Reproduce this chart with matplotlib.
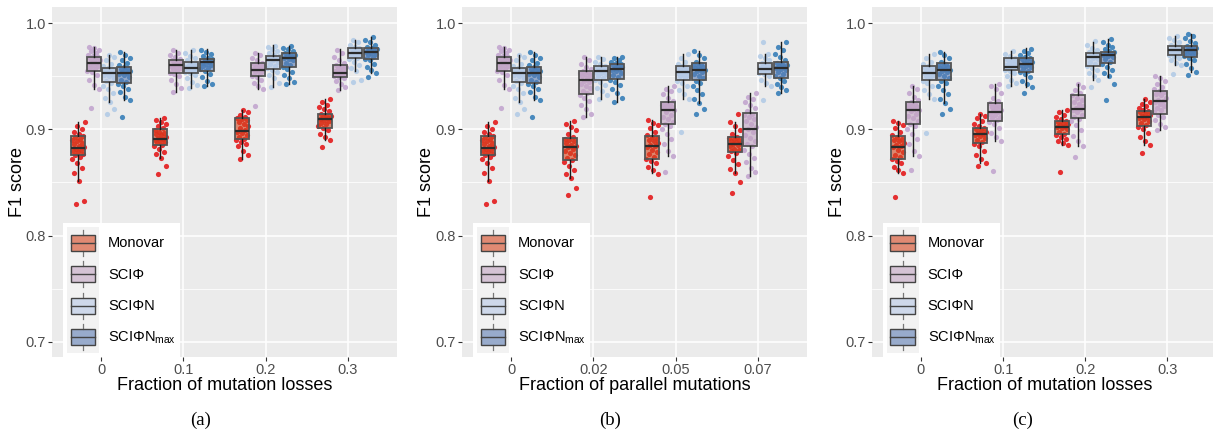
import matplotlib
matplotlib.use("Agg")
import matplotlib.pyplot as plt
import numpy as np
from matplotlib.patches import Patch, Rectangle
from matplotlib.lines import Line2D
from matplotlib.legend_handler import HandlerBase
from matplotlib.colors import to_rgba

plt.rcParams['font.family'] = ['Liberation Sans', 'DejaVu Sans']
plt.rcParams['mathtext.default'] = 'regular'

methods = ["Monovar", "SCI\u03a6", "SCI\u03a6N", "SCI\u03a6N$_{max}$"]
loss_ticks = ["0", "0.1", "0.2", "0.3"]
par_ticks = ["0", "0.02", "0.05", "0.07"]

# ---- box summaries (whislo, q1, median, q3, whishi) ----
a_mono_box = [(0.851, 0.8755, 0.8826, 0.8937, 0.907), (0.873, 0.8852, 0.8908, 0.900, 0.911),
              (0.872, 0.8906, 0.8984, 0.9104, 0.918), (0.890, 0.9015, 0.9097, 0.9141, 0.929)]
a_phi_box = [(0.938, 0.9553, 0.9623, 0.9685, 0.978), (0.9355, 0.9528, 0.9604, 0.9654, 0.975),
             (0.938, 0.9503, 0.9559, 0.9623, 0.972), (0.937, 0.9496, 0.9528, 0.9607, 0.9755)]
a_phin_box = [(0.926, 0.9449, 0.9534, 0.9575, 0.970), (0.939, 0.9534, 0.9575, 0.9632, 0.975),
              (0.940, 0.9569, 0.9654, 0.9692, 0.9795), (0.955, 0.967, 0.9717, 0.977, 0.984)]
a_max_box = [(0.928, 0.9434, 0.9534, 0.959, 0.973), (0.941, 0.9553, 0.9632, 0.966, 0.9755),
             (0.943, 0.959, 0.967, 0.9717, 0.9786), (0.9534, 0.966, 0.9732, 0.977, 0.9868)]

b_mono_box = [a_mono_box[0], (0.854, 0.871, 0.8836, 0.8921, 0.908),
              (0.8585, 0.872, 0.8845, 0.894, 0.909), (0.859, 0.879, 0.886, 0.893, 0.907)]
b_phi_box = [a_phi_box[0], (0.912, 0.933, 0.9465, 0.955, 0.9685),
             (0.875, 0.9047, 0.9182, 0.9255, 0.941), (0.856, 0.8845, 0.900, 0.9157, 0.934)]
b_phin_box = [a_phin_box[0], (0.929, 0.9465, 0.955, 0.9597, 0.9685),
              (0.9286, 0.9465, 0.9538, 0.960, 0.971), (0.941, 0.9522, 0.9569, 0.9623, 0.971)]
b_max_box = [a_max_box[0], (0.926, 0.9474, 0.9566, 0.9613, 0.968),
             (0.9245, 0.9465, 0.9559, 0.9623, 0.9742), (0.934, 0.9487, 0.9575, 0.9632, 0.982)]

c_mono_box = [(0.859, 0.872, 0.8836, 0.8937, 0.908), (0.868, 0.8874, 0.8953, 0.901, 0.915),
              (0.885, 0.8953, 0.9025, 0.9078, 0.918), (0.885, 0.9031, 0.9113, 0.9176, 0.9286)]
c_phi_box = [(0.875, 0.9047, 0.9182, 0.926, 0.941), (0.889, 0.908, 0.916, 0.925, 0.943),
             (0.884, 0.911, 0.919, 0.932, 0.943), (0.899, 0.915, 0.927, 0.936, 0.950)]
c_phin_box = [(0.929, 0.9465, 0.9534, 0.960, 0.971), (0.941, 0.956, 0.959, 0.967, 0.974),
              (0.947, 0.9597, 0.9685, 0.9723, 0.9827), (0.9607, 0.970, 0.9748, 0.9789, 0.988)]
c_max_box = [(0.9245, 0.9465, 0.9559, 0.9623, 0.9732), (0.9396, 0.9538, 0.9613, 0.9676, 0.9764),
             (0.9496, 0.9623, 0.970, 0.9726, 0.9849), (0.9543, 0.9685, 0.9748, 0.9789, 0.9896)]

# ---- individual F1 scores (jittered dots), read approximately ----
a_mono = [
    [0.830, 0.833, 0.851, 0.859, 0.864, 0.868, 0.872, 0.874, 0.876, 0.877, 0.879, 0.880, 0.881, 0.882,
     0.883, 0.884, 0.886, 0.887, 0.889, 0.890, 0.891, 0.893, 0.894, 0.896, 0.898, 0.900, 0.903, 0.907],
    [0.858, 0.866, 0.873, 0.877, 0.879, 0.882, 0.884, 0.885, 0.887, 0.888, 0.889, 0.890, 0.891, 0.892,
     0.893, 0.895, 0.896, 0.897, 0.898, 0.899, 0.901, 0.903, 0.905, 0.907, 0.909, 0.911],
    [0.872, 0.876, 0.880, 0.884, 0.886, 0.888, 0.890, 0.891, 0.893, 0.895, 0.897, 0.898, 0.899, 0.901,
     0.903, 0.905, 0.907, 0.909, 0.910, 0.911, 0.912, 0.914, 0.916, 0.918],
    [0.883, 0.890, 0.893, 0.896, 0.899, 0.901, 0.903, 0.905, 0.906, 0.908, 0.909, 0.910, 0.911, 0.912,
     0.913, 0.914, 0.915, 0.917, 0.919, 0.921, 0.923, 0.926, 0.929]]
a_phi = [
    [0.920, 0.938, 0.942, 0.947, 0.951, 0.954, 0.955, 0.957, 0.958, 0.960, 0.961, 0.962, 0.963, 0.964,
     0.965, 0.966, 0.967, 0.968, 0.969, 0.970, 0.972, 0.974, 0.975, 0.977, 0.978],
    [0.935, 0.939, 0.943, 0.947, 0.950, 0.952, 0.953, 0.955, 0.957, 0.958, 0.959, 0.960, 0.961, 0.962,
     0.963, 0.964, 0.965, 0.966, 0.968, 0.970, 0.972, 0.975],
    [0.922, 0.938, 0.941, 0.944, 0.947, 0.949, 0.950, 0.952, 0.954, 0.955, 0.956, 0.957, 0.958, 0.959,
     0.960, 0.961, 0.962, 0.963, 0.965, 0.967, 0.970, 0.972],
    [0.937, 0.940, 0.943, 0.946, 0.948, 0.949, 0.950, 0.951, 0.952, 0.953, 0.954, 0.955, 0.957, 0.958,
     0.959, 0.960, 0.961, 0.963, 0.965, 0.968, 0.972, 0.975]]
a_phin = [
    [0.915, 0.919, 0.926, 0.930, 0.934, 0.938, 0.941, 0.944, 0.946, 0.948, 0.950, 0.951, 0.952, 0.953,
     0.954, 0.955, 0.956, 0.957, 0.958, 0.960, 0.962, 0.965, 0.968, 0.970],
    [0.939, 0.942, 0.945, 0.948, 0.951, 0.953, 0.954, 0.955, 0.956, 0.957, 0.958, 0.959, 0.960, 0.961,
     0.962, 0.963, 0.965, 0.967, 0.969, 0.972, 0.975],
    [0.940, 0.944, 0.948, 0.951, 0.954, 0.956, 0.958, 0.960, 0.962, 0.964, 0.965, 0.966, 0.967, 0.968,
     0.969, 0.970, 0.972, 0.974, 0.976, 0.978, 0.979],
    [0.945, 0.947, 0.955, 0.958, 0.961, 0.964, 0.966, 0.967, 0.968, 0.969, 0.970, 0.971, 0.972, 0.973,
     0.974, 0.975, 0.976, 0.977, 0.978, 0.980, 0.982, 0.984]]
a_max = [
    [0.912, 0.928, 0.931, 0.935, 0.938, 0.941, 0.943, 0.945, 0.947, 0.949, 0.951, 0.952, 0.953, 0.954,
     0.955, 0.956, 0.957, 0.958, 0.959, 0.961, 0.963, 0.965, 0.967, 0.970, 0.973],
    [0.941, 0.943, 0.946, 0.949, 0.952, 0.955, 0.957, 0.958, 0.960, 0.961, 0.962, 0.963, 0.964, 0.965,
     0.966, 0.967, 0.969, 0.971, 0.973, 0.975],
    [0.943, 0.945, 0.948, 0.951, 0.954, 0.957, 0.959, 0.961, 0.963, 0.965, 0.966, 0.967, 0.968, 0.969,
     0.970, 0.971, 0.972, 0.974, 0.976, 0.977, 0.979],
    [0.949, 0.953, 0.956, 0.959, 0.962, 0.965, 0.966, 0.968, 0.970, 0.971, 0.972, 0.973, 0.974, 0.975,
     0.976, 0.977, 0.978, 0.980, 0.982, 0.984, 0.987]]

b_mono = [
    a_mono[0],
    [0.838, 0.845, 0.854, 0.858, 0.862, 0.866, 0.869, 0.871, 0.873, 0.876, 0.878, 0.880, 0.882, 0.883,
     0.884, 0.885, 0.887, 0.889, 0.890, 0.891, 0.893, 0.896, 0.899, 0.902, 0.905, 0.908],
    [0.836, 0.858, 0.862, 0.865, 0.868, 0.870, 0.872, 0.874, 0.877, 0.879, 0.881, 0.883, 0.884, 0.885,
     0.887, 0.889, 0.890, 0.892, 0.893, 0.895, 0.898, 0.901, 0.904, 0.906, 0.909],
    [0.840, 0.850, 0.859, 0.863, 0.867, 0.871, 0.875, 0.878, 0.880, 0.881, 0.882, 0.884, 0.885, 0.886,
     0.887, 0.888, 0.889, 0.890, 0.891, 0.892, 0.893, 0.896, 0.899, 0.903, 0.907, 0.915]]
b_phi = [
    a_phi[0],
    [0.912, 0.915, 0.919, 0.923, 0.927, 0.930, 0.932, 0.934, 0.936, 0.939, 0.941, 0.943, 0.945, 0.946,
     0.947, 0.948, 0.950, 0.951, 0.952, 0.953, 0.954, 0.955, 0.957, 0.959, 0.962, 0.965, 0.968],
    [0.860, 0.875, 0.880, 0.886, 0.891, 0.896, 0.900, 0.903, 0.905, 0.907, 0.910, 0.912, 0.914, 0.916,
     0.918, 0.919, 0.920, 0.921, 0.922, 0.923, 0.924, 0.925, 0.927, 0.930, 0.933, 0.936, 0.938, 0.941],
    [0.856, 0.860, 0.864, 0.869, 0.873, 0.877, 0.881, 0.884, 0.886, 0.889, 0.892, 0.895, 0.898, 0.900,
     0.902, 0.905, 0.908, 0.910, 0.912, 0.914, 0.915, 0.917, 0.920, 0.923, 0.926, 0.929, 0.931, 0.934]]
b_phin = [
    a_phin[0],
    [0.929, 0.932, 0.936, 0.939, 0.942, 0.945, 0.947, 0.948, 0.950, 0.952, 0.953, 0.954, 0.955, 0.956,
     0.957, 0.958, 0.959, 0.960, 0.962, 0.964, 0.966, 0.968],
    [0.898, 0.929, 0.933, 0.937, 0.941, 0.944, 0.946, 0.948, 0.950, 0.951, 0.952, 0.953, 0.954, 0.955,
     0.956, 0.957, 0.958, 0.959, 0.960, 0.962, 0.964, 0.967, 0.971],
    [0.928, 0.941, 0.944, 0.947, 0.950, 0.952, 0.953, 0.954, 0.955, 0.956, 0.957, 0.958, 0.959, 0.960,
     0.961, 0.962, 0.963, 0.965, 0.967, 0.969, 0.971, 0.982]]
b_max = [
    a_max[0],
    [0.926, 0.930, 0.934, 0.938, 0.942, 0.945, 0.947, 0.949, 0.951, 0.953, 0.955, 0.956, 0.957, 0.958,
     0.959, 0.960, 0.961, 0.962, 0.963, 0.964, 0.965, 0.967, 0.968],
    [0.915, 0.919, 0.925, 0.929, 0.933, 0.937, 0.941, 0.944, 0.946, 0.948, 0.950, 0.952, 0.954, 0.955,
     0.956, 0.957, 0.958, 0.959, 0.960, 0.961, 0.962, 0.964, 0.967, 0.970, 0.974],
    [0.934, 0.937, 0.940, 0.943, 0.946, 0.948, 0.950, 0.952, 0.954, 0.956, 0.957, 0.958, 0.959, 0.960,
     0.961, 0.962, 0.963, 0.965, 0.968, 0.971, 0.975, 0.978, 0.982]]

c_mono = [
    [0.836, 0.859, 0.862, 0.865, 0.868, 0.870, 0.872, 0.874, 0.876, 0.879, 0.881, 0.883, 0.884, 0.885,
     0.887, 0.889, 0.890, 0.891, 0.893, 0.895, 0.898, 0.901, 0.904, 0.906, 0.908],
    [0.866, 0.868, 0.872, 0.876, 0.880, 0.884, 0.886, 0.888, 0.890, 0.892, 0.894, 0.895, 0.896, 0.897,
     0.898, 0.899, 0.900, 0.901, 0.903, 0.905, 0.908, 0.911, 0.913, 0.915],
    [0.860, 0.885, 0.887, 0.889, 0.891, 0.893, 0.895, 0.896, 0.898, 0.900, 0.901, 0.902, 0.903, 0.904,
     0.905, 0.906, 0.907, 0.908, 0.910, 0.912, 0.914, 0.916, 0.918],
    [0.878, 0.885, 0.889, 0.893, 0.897, 0.900, 0.902, 0.904, 0.906, 0.908, 0.910, 0.911, 0.912, 0.913,
     0.914, 0.915, 0.916, 0.917, 0.918, 0.920, 0.922, 0.924, 0.926, 0.929]]
c_phi = [
    [0.862, 0.875, 0.880, 0.886, 0.891, 0.896, 0.900, 0.903, 0.905, 0.908, 0.911, 0.913, 0.915, 0.917,
     0.918, 0.919, 0.920, 0.921, 0.922, 0.923, 0.924, 0.926, 0.928, 0.931, 0.934, 0.938, 0.941],
    [0.861, 0.889, 0.893, 0.897, 0.901, 0.905, 0.907, 0.909, 0.911, 0.912, 0.914, 0.915, 0.916, 0.917,
     0.918, 0.920, 0.921, 0.922, 0.924, 0.925, 0.927, 0.930, 0.934, 0.938, 0.941, 0.943],
    [0.874, 0.884, 0.889, 0.894, 0.899, 0.904, 0.908, 0.910, 0.912, 0.914, 0.916, 0.918, 0.919, 0.920,
     0.922, 0.924, 0.926, 0.928, 0.930, 0.932, 0.934, 0.937, 0.940, 0.943],
    [0.899, 0.902, 0.905, 0.909, 0.912, 0.914, 0.916, 0.918, 0.920, 0.922, 0.924, 0.926, 0.927, 0.928,
     0.930, 0.932, 0.933, 0.935, 0.936, 0.938, 0.940, 0.943, 0.946, 0.948, 0.950]]
c_phin = [
    [0.897, 0.929, 0.933, 0.937, 0.941, 0.944, 0.946, 0.948, 0.950, 0.951, 0.952, 0.953, 0.954, 0.955,
     0.956, 0.957, 0.958, 0.959, 0.960, 0.962, 0.964, 0.967, 0.971],
    [0.941, 0.944, 0.947, 0.950, 0.953, 0.955, 0.956, 0.957, 0.958, 0.959, 0.960, 0.961, 0.962, 0.963,
     0.964, 0.965, 0.966, 0.967, 0.969, 0.971, 0.974],
    [0.940, 0.947, 0.950, 0.953, 0.956, 0.958, 0.960, 0.962, 0.964, 0.966, 0.967, 0.968, 0.969, 0.970,
     0.971, 0.972, 0.973, 0.975, 0.977, 0.980, 0.983],
    [0.952, 0.961, 0.963, 0.965, 0.967, 0.969, 0.970, 0.971, 0.972, 0.973, 0.974, 0.975, 0.976, 0.977,
     0.978, 0.979, 0.980, 0.982, 0.984, 0.986, 0.988]]
c_max = [
    [0.915, 0.919, 0.925, 0.929, 0.933, 0.937, 0.941, 0.944, 0.946, 0.948, 0.950, 0.952, 0.954, 0.955,
     0.956, 0.957, 0.958, 0.959, 0.960, 0.961, 0.962, 0.964, 0.967, 0.970, 0.973],
    [0.934, 0.940, 0.943, 0.946, 0.949, 0.952, 0.954, 0.955, 0.957, 0.959, 0.960, 0.961, 0.962, 0.963,
     0.964, 0.965, 0.966, 0.967, 0.968, 0.970, 0.972, 0.974, 0.976],
    [0.928, 0.943, 0.950, 0.953, 0.956, 0.959, 0.962, 0.964, 0.966, 0.968, 0.969, 0.970, 0.971, 0.972,
     0.973, 0.974, 0.976, 0.978, 0.980, 0.982, 0.985],
    [0.951, 0.954, 0.958, 0.962, 0.965, 0.967, 0.969, 0.970, 0.971, 0.972, 0.973, 0.974, 0.975, 0.976,
     0.977, 0.978, 0.979, 0.981, 0.983, 0.986, 0.988, 0.990]]

# ---- styling ----
point_colors = ['#E41A1C', '#C2A5CF', '#B3CBE6', '#377EB8']
fill_colors = ['#D4451E', '#C3A5C3', '#B6C8E5', '#5C7DB3']
FILL_ALPHA = 0.6
EDGE = '#555555'
MED = '#2b2b2b'
dodge = [-0.28125, -0.09375, 0.09375, 0.28125]

W, H = 1213, 433
fig = plt.figure(figsize=(W / 100, H / 100), dpi=100)


def jitter(n, half=0.078):
    k = np.arange(n)
    return ((k * 0.618034 + 0.31) % 1.0 - 0.5) * 2 * half


class BoxKey(HandlerBase):
    def create_artists(self, legend, orig, xd, yd, w, h, fs, trans):
        x0, y0 = -xd, -yd
        bg = Rectangle((x0, y0), w, h, fc='#F2F2F2', ec='none', transform=trans)
        bw = 0.78 * w
        cx = x0 + w / 2
        wl = Line2D([cx, cx], [y0 + 0.08 * h, y0 + 0.25 * h], color='#777777', lw=0.9, transform=trans)
        wh = Line2D([cx, cx], [y0 + 0.75 * h, y0 + 0.92 * h], color='#777777', lw=0.9, transform=trans)
        box = Rectangle((cx - bw / 2, y0 + 0.25 * h), bw, 0.5 * h, fc=orig.get_facecolor(),
                        ec='#444444', lw=1.0, transform=trans)
        med = Line2D([cx - bw / 2, cx + bw / 2], [y0 + h / 2] * 2, color='#444444', lw=1.0, transform=trans)
        return [bg, wl, wh, box, med]


panels = [
    dict(left=52, ticks=loss_ticks, xlabel='Fraction of mutation losses', cap='(a)', capx=201, ylx=18,
         pts=[a_mono, a_phi, a_phin, a_max], boxes=[a_mono_box, a_phi_box, a_phin_box, a_max_box]),
    dict(left=462, ticks=par_ticks, xlabel='Fraction of parallel mutations', cap='(b)', capx=610, ylx=427,
         pts=[b_mono, b_phi, b_phin, b_max], boxes=[b_mono_box, b_phi_box, b_phin_box, b_max_box]),
    dict(left=871.7, ticks=loss_ticks, xlabel='Fraction of mutation losses', cap='(c)', capx=1023, ylx=838,
         pts=[c_mono, c_phi, c_phin, c_max], boxes=[c_mono_box, c_phi_box, c_phin_box, c_max_box]),
]

ax_w, ax_top, ax_bot = 345, 7, 357
for p in panels:
    ax = fig.add_axes([p['left'] / W, 1 - ax_bot / H, ax_w / W, (ax_bot - ax_top) / H])
    ax.set_facecolor('#EBEBEB')
    for s in ax.spines.values():
        s.set_visible(False)
    ax.set_axisbelow(True)

    for j in range(4):
        for i, vals in enumerate(p['pts'][j]):
            pos = i + 1 + dodge[j]
            ax.scatter(pos + jitter(len(vals)), vals, s=14, color=point_colors[j], alpha=0.9,
                       linewidths=0, zorder=2)
        stats = [dict(whislo=b[0], q1=b[1], med=b[2], q3=b[3], whishi=b[4], fliers=[]) for b in p['boxes'][j]]
        ax.bxp(stats, positions=[i + 1 + dodge[j] for i in range(4)], widths=0.17, patch_artist=True,
               showfliers=False, showcaps=False, manage_ticks=False, zorder=3,
               boxprops=dict(facecolor=to_rgba(fill_colors[j], FILL_ALPHA), edgecolor=EDGE, linewidth=1.3),
               whiskerprops=dict(color='#1a1a1a', linewidth=1.0),
               medianprops=dict(color=MED, linewidth=1.6))

    ax.set_xlim(0.4, 4.6)
    ax.set_ylim(0.68558, 1.01536)
    ax.set_xticks([1, 2, 3, 4])
    ax.set_xticklabels(p['ticks'])
    ax.set_yticks([0.7, 0.8, 0.9, 1.0])
    ax.set_yticklabels(['0.7', '0.8', '0.9', '1.0'])
    ax.set_yticks([0.75, 0.85, 0.95], minor=True)
    ax.grid(which='major', color='white', linewidth=1.1)
    ax.grid(which='minor', axis='y', color='white', linewidth=0.55)
    ax.tick_params(which='major', length=2.75, width=0.8, color='#333333', labelcolor='#4D4D4D',
                   labelsize=10.5, pad=1.5)
    ax.tick_params(which='minor', length=0)

    ax.set_xlabel(p['xlabel'], fontsize=13, va='center')
    ax.xaxis.set_label_coords(0.5, -(385 - ax_bot) / (ax_bot - ax_top))
    ax.set_ylabel('F1 score', fontsize=13, va='center')
    ax.yaxis.set_label_coords((p['ylx'] - p['left']) / ax_w, 0.5)

    handles = [Patch(facecolor=to_rgba(fill_colors[j], FILL_ALPHA)) for j in range(4)]
    fs = 10.5
    em = fs * 100 / 72
    # matplotlib's legend row height is fontsize * (0.65 * handleheight + 0.245)
    hh = (31.5 / em - 0.245) / 0.65
    leg = ax.legend(handles, methods, handler_map={Patch: BoxKey()}, loc='lower left',
                    bbox_to_anchor=(11 / ax_w, 0.0), borderaxespad=0, fontsize=fs,
                    handlelength=32 / em, handleheight=hh, labelspacing=0,
                    handletextpad=9 / em, borderpad=4 / em, frameon=True, fancybox=False,
                    facecolor='white', edgecolor='white', framealpha=1)
    leg.get_frame().set_linewidth(0)

    fig.text(p['capx'] / W, 1 - 420 / H, p['cap'], family=['Liberation Serif', 'DejaVu Serif'],
             fontsize=13.5, ha='center', va='center')

fig.savefig('out.png', dpi=100)
